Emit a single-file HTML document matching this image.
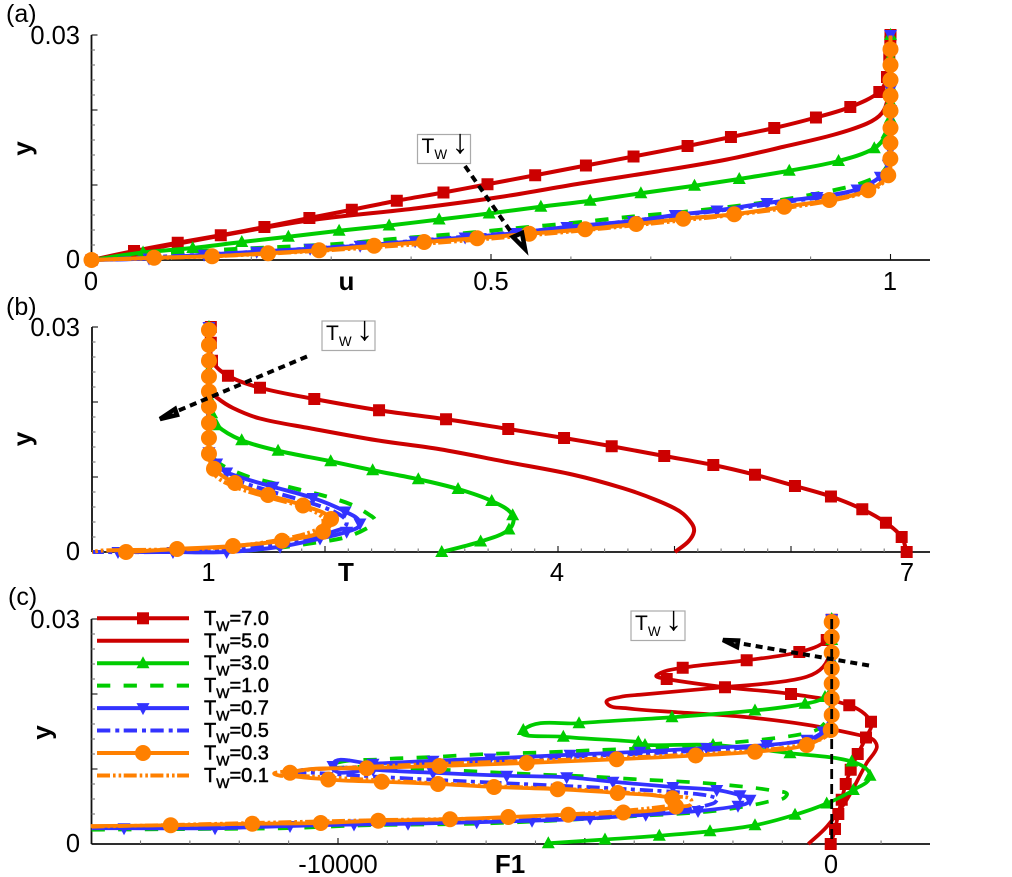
<!DOCTYPE html>
<html lang="en">
<head>
<meta charset="utf-8">
<title>Profiles of u, T and F1 for several wall temperatures</title>
<style>
html,body{margin:0;padding:0;background:#fff;}
svg{display:block;}
text{font-family:"Liberation Sans",Arial,sans-serif;fill:#000;}
.tick{font-size:25.5px;}
.ttl{font-size:26px;font-weight:bold;}
.pan{font-size:25px;}
.leg{font-size:20px;stroke:#000;stroke-width:.5px;}
.tw{font-size:21px;}
.twa{font-size:34px;}
</style>
</head>
<body>
<svg id="chart" xmlns="http://www.w3.org/2000/svg" width="1012" height="877" viewBox="0 0 1012 877">
  <rect x="0" y="0" width="1012" height="877" fill="#fff"/>
  <g id="axes"></g>
  <g id="curves"></g>

  <text class="pan" x="6" y="22">(a)</text>
  <text class="pan" x="6" y="315">(b)</text>
  <text class="pan" x="8" y="605">(c)</text>

  <text class="tick" x="80" y="44" text-anchor="end">0.03</text>
  <text class="tick" x="80" y="268" text-anchor="end">0</text>
  <text class="tick" x="91" y="290" text-anchor="middle">0</text>
  <text class="tick" x="491" y="290" text-anchor="middle">0.5</text>
  <text class="tick" x="890" y="290" text-anchor="middle">1</text>
  <text class="ttl" x="346.5" y="290" text-anchor="middle">u</text>
  <text class="ttl" transform="translate(31,148.5) rotate(-90)" text-anchor="middle">y</text>

  <text class="tick" x="80" y="336" text-anchor="end">0.03</text>
  <text class="tick" x="80" y="560" text-anchor="end">0</text>
  <text class="tick" x="208.5" y="581" text-anchor="middle">1</text>
  <text class="tick" x="557" y="581" text-anchor="middle">4</text>
  <text class="tick" x="907" y="581" text-anchor="middle">7</text>
  <text class="ttl" x="346" y="581" text-anchor="middle">T</text>
  <text class="ttl" transform="translate(31,439) rotate(-90)" text-anchor="middle">y</text>

  <text class="tick" x="80" y="628" text-anchor="end">0.03</text>
  <text class="tick" x="80" y="852" text-anchor="end">0</text>
  <text class="tick" x="338" y="873" text-anchor="middle">-10000</text>
  <text class="tick" x="831" y="873" text-anchor="middle">0</text>
  <text class="ttl" x="510" y="873" text-anchor="middle">F1</text>
  <text class="ttl" transform="translate(50.7,732.5) rotate(-90)" text-anchor="middle">y</text>

  <g id="legend"></g>

  <g>
    <line x1="465" y1="166" x2="518" y2="242" stroke="#000" stroke-width="4" stroke-dasharray="7 5"/>
    <polygon points="525,249 513,237 522,233" fill="#fff" stroke="#000" stroke-width="4.5"/>
    <rect x="417.5" y="134.5" width="53" height="29" fill="#fff" stroke="#aaa" stroke-width="1.2"/>
    <text class="tw" x="421.5" y="153">T<tspan font-size="13.5" dy="6">W</tspan></text>
    <text class="twa" x="460" y="153" text-anchor="middle">↓</text>
  </g>
  <g>
    <line x1="307" y1="356.5" x2="175" y2="412" stroke="#000" stroke-width="4" stroke-dasharray="7 5"/>
    <polygon points="160,419 175,409 177,415" fill="#fff" stroke="#000" stroke-width="4.5"/>
    <rect x="322" y="321" width="53" height="29.5" fill="#fff" stroke="#aaa" stroke-width="1.2"/>
    <text class="tw" x="326" y="340">T<tspan font-size="13.5" dy="6">W</tspan></text>
    <text class="twa" x="364.5" y="340" text-anchor="middle">↓</text>
  </g>
  <g>
    <line x1="831.7" y1="619" x2="831.7" y2="844" stroke="#000" stroke-width="2.8" stroke-dasharray="10 5"/>
    <line x1="869" y1="665.5" x2="738" y2="643" stroke="#000" stroke-width="4" stroke-dasharray="7 5"/>
    <polygon points="723,640 738,640.5 737,647" fill="#fff" stroke="#000" stroke-width="4.5"/>
    <rect x="631" y="611" width="54" height="29.5" fill="#fff" stroke="#aaa" stroke-width="1.2"/>
    <text class="tw" x="635" y="630">T<tspan font-size="13.5" dy="6">W</tspan></text>
    <text class="twa" x="673.5" y="630" text-anchor="middle">↓</text>
  </g>
</svg>

<script>
/* ---------- Panel (a): u vs y ---------- */
const aU70=[0,.0532,.1079,.1618,.2164,.2727,.3258,.3821,.4405,.4956,.5553,.6188,.6784,.7460,.8003,.8545,.9067,.9497,.9860,.9956,.9985,.9998,1];
const aY70=[0,.0012,.0023,.0033,.0044,.0056,.0067,.0079,.0090,.0101,.0113,.0126,.0138,.0152,.0164,.0176,.0190,.0204,.0224,.0244,.0269,.0291,.03];
const aU50=[0,.2611,.4072,.5115,.6116,.7077,.7953,.8662,.9288,.9706,.9894,.9972,.9998,1];
const aY50=[0,.0051,.0069,.0084,.0102,.0118,.0134,.0151,.0167,.0182,.0196,.0218,.0258,.03];
const aU30=[0,.0645,.1267,.1881,.2464,.3099,.3725,.4351,.4977,.5624,.6241,.6876,.7547,.8107,.8733,.9350,.9797,.9956,.9998,.9999,1,1,1];
const aY30=[0,.0010,.0016,.0024,.0031,.0039,.0046,.0054,.0062,.0071,.0079,.0089,.0099,.0108,.0119,.0132,.0149,.0169,.0189,.0211,.0231,.0271,.03];
const aU10=[0,.1358,.3024,.3775,.4698,.5281,.6075,.6780,.7406,.8078,.8746,.9455,.9747,.9910,.9998,1];
const aY10=[0,.0012,.0021,.0028,.0036,.0042,.0050,.0058,.0064,.0072,.0082,.0097,.0107,.0118,.0138,.03];
const aU07=[0,.0720,.1409,.2068,.2736,.3362,.4050,.4676,.5315,.5950,.6780,.7306,.7828,.8454,.9080,.9581,.9873,.9972,.9998,.9999,1,1,1,1,1];
const aY07=[0,.0002,.0007,.0011,.0015,.0019,.0025,.0030,.0036,.0044,.0052,.0060,.0066,.0076,.0084,.0094,.0111,.0127,.0147,.0173,.02,.0227,.0253,.0277,.03];
const aU05=[0,.1358,.2986,.4676,.5950,.7306,.8454,.9581,.9873,.9998,1];
const aY05=[0,.0007,.0017,.0031,.0043,.0059,.0074,.0093,.0109,.0140,.03];
const aU03=[0,.0783,.1509,.2210,.2848,.3537,.4163,.4827,.5478,.6179,.6817,.7406,.8044,.8670,.9234,.9722,.9972,.9998,.9999,1,1,1,1,1,1];
const aY03=[0,.0003,.0005,.0009,.0013,.0019,.0024,.0029,.0035,.0041,.0048,.0055,.0061,.0071,.0080,.0093,.0113,.0135,.0156,.0176,.0199,.0219,.0240,.0260,.0281];
const aU01=[0,.1735,.3537,.5478,.7406,.8670,.9722,.9972,.9998,1];
const aY01=[0,.0006,.0017,.0033,.0053,.0069,.0091,.0112,.0140,.03];

/* ---------- Panel (b): T vs y ---------- */
const bT70=[1.02,1.02,1.03,1.167,1.442,1.908,2.464,3.039,3.573,4.052,4.461,4.912,5.333,5.691,6.034,6.343,6.612,6.815,6.950,6.993];
const bY70=[.03,.0279,.0255,.0235,.0219,.0204,.0189,.0177,.0164,.0152,.0141,.0128,.0116,.0103,.0088,.0074,.0057,.0039,.0020,0];
const bT50=[1.004,1.008,1.013,1.070,1.210,1.442,1.871,2.444,2.987,3.560,4.131,4.560,4.847,5.047,5.148,5.167,5.119,5.004];
const bY50=[.03,.0223,.0216,.0206,.0192,.0178,.0165,.0149,.0137,.0120,.0103,.0085,.0069,.0054,.0038,.0027,.0014,0];
const bT30=[1.004,1.004,1.013,1.027,1.070,1.285,1.597,2.049,2.409,2.801,3.142,3.431,3.611,3.579,3.336,3.002];
const bY30=[.03,.0243,.0203,.0185,.0169,.0149,.0135,.0121,.0109,.0097,.0084,.0068,.0049,.0030,.0014,0];
const bT10=[1.004,1.004,1.056,1.313,1.554,1.785,2.015,2.229,2.386,2.429,2.386,2.186,1.897,1.500,1.156,.584,.094];
const bY10=[.03,.0149,.0123,.0102,.0092,.0083,.0074,.0063,.0049,.0042,.0034,.0020,.0012,.0004,.0001,0,0];
const bT07=[1.004,1.004,1.004,1.004,1.004,1.004,1.004,1.004,1.004,1.070,1.156,1.554,1.897,2.172,2.300,2.186,1.957,1.614,1.156,.695,.223];
const bY07=[.03,.0276,.0256,.0233,.0213,.0192,.0172,.0152,.0133,.0118,.0106,.0087,.0072,.0054,.0038,.0027,.0018,.0007,0,0,0];
const bT05=[1.004,1.004,1.070,1.242,1.554,1.843,2.100,2.186,2.069,1.725,1.210,.584,.009];
const bY05=[.03,.0143,.0114,.0096,.0080,.0067,.0052,.0038,.0027,.0014,.0003,0,0];
const bT03=[1.004,1.004,1.004,1.004,1.004,1.004,1.004,1.004,1.004,1.047,1.227,1.511,1.811,2.052,1.983,1.631,1.210,.730,.292];
const bY03=[.0296,.0276,.0255,.0234,.0214,.0194,.0172,.0152,.0131,.0111,.0092,.0076,.0062,.0044,.0027,.0015,.0008,.0004,0];
const bT01=[1.004,1.004,1.047,1.227,1.511,1.811,1.972,1.972,1.728,1.296,.867,.094,0];
const bY01=[.03,.0149,.0105,.0087,.0073,.0060,.0047,.0034,.0020,.0009,.0004,.0002,0];

/* ---------- Panel (c): F1 vs y ---------- */
const cF70=[-20,67,134,203,284,385,527,695,796,356,-824,-2161,-3342,-3545,-3018,-1722,-656,-101,0];
const cY70=[0,.0020,.0040,.0059,.0080,.0099,.0120,.0142,.0163,.0185,.0200,.0209,.0220,.0225,.0235,.0245,.0256,.0272,.0299];
const cF70TurnIndex=13;
const cF50=[-474,-101,304,709,911,843,573,-506,-1857,-3208,-4152,-4557,-4288,-3883,-2202,-1189,-506,-176,-20,0];
const cY50=[0,.0023,.0059,.0108,.0128,.0139,.0145,.0159,.0170,.0176,.0181,.0188,.0196,.0199,.0209,.0215,.0223,.0236,.0259,.03];
const cF30=[-5740,-4592,-3492,-2465,-1554,-743,-101,438,776,405,-845,-2404,-3782,-3917,-5436,-6247,-5118,-3235,-1554,-541,-136,0,0,0,0];
const cY30=[.0001,.0006,.0011,.0017,.0025,.0039,.0054,.0072,.0091,.0110,.0121,.0132,.0132,.0136,.0143,.0152,.0161,.0169,.0178,.0187,.0196,.0215,.0245,.0272,.03];
const cF10=[-14990,-12795,-11114,-9419,-7265,-5706,-4025,-2532,-1857,-1317,-911,-1189,-1722,-2734,-3883,-4896,-6050,-6988,-8203,-9433,-10162,-9088,-8076,-6988,-5908,-4835,-3747,-2060,-1047,-506,-237,-34,0];
const cY10=[.0019,.0020,.0021,.0025,.0027,.0031,.0037,.0043,.0049,.0056,.0065,.0071,.0076,.0082,.0086,.0090,.0093,.0096,.0100,.0103,.0105,.0113,.0116,.0120,.0122,.0125,.0128,.0135,.0142,.0148,.0155,.0175,.03];
const cF07=[-14990,-14334,-12491,-10972,-9676,-8582,-7190,-6070,-4896,-3767,-2708,-1898,-1655,-1857,-2329,-3214,-4430,-5368,-6583,-8076,-9291,-10101,-9291,-8076,-6921,-5301,-3883,-2532,-1317,-506,-176,-20,0,0,0];
const cY07=[.0021,.0021,.0021,.0024,.0026,.0027,.0029,.0031,.0034,.0039,.0044,.0051,.0059,.0065,.0072,.0076,.0083,.0089,.0091,.0095,.0099,.0104,.0107,.0111,.0114,.0119,.0123,.0128,.0132,.0139,.0150,.0170,.0192,.0245,.03];
const cF05=[-14990,-10769,-7731,-6050,-4693,-3073,-2404,-2329,-2937,-3822,-4962,-6583,-8744,-10506,-10871,-10101,-8076,-5301,-2546,-845,-176,0,0];
const cY05=[.0022,.0025,.0029,.0032,.0037,.0045,.0054,.0061,.0068,.0072,.0076,.0081,.0088,.0095,.0097,.0101,.0107,.0116,.0125,.0135,.0148,.0192,.03];
const cF03=[-15009,-13389,-11736,-10350,-9184,-7731,-6550,-5335,-4221,-3154,-3229,-4335,-5550,-6840,-7974,-9115,-10196,-10972,-9419,-7948,-6178,-4355,-2755,-1554,-506,-20,0,0,0,0,0,0,0];
const cY03=[.0024,.0025,.0027,.0028,.0031,.0033,.0036,.0039,.0042,.0050,.0061,.0068,.0073,.0076,.0080,.0083,.0086,.0095,.0101,.0104,.0108,.0113,.0118,.0123,.0132,.0152,.0172,.0194,.0214,.0234,.0255,.0276,.0296];
const cF01=[-14990,-11782,-9149,-6719,-4288,-3275,-2836,-3275,-4693,-6719,-9149,-10769,-11276,-10972,-9413,-7934,-6111,-4288,-2668,-1452,-440,-34,0,0];
const cY01=[.0023,.0028,.0032,.0035,.0044,.0051,.0056,.0063,.0071,.0077,.0085,.0091,.0093,.0097,.0103,.0107,.0111,.0115,.0120,.0125,.0135,.0151,.0272,.03];

const legendLabels=["7.0","5.0","3.0","1.0","0.7","0.5","0.3","0.1"];
const seriesKeys=["t70","t50","t30","t10","t07","t05","t03","t01"];
const aXs=[aU70,aU50,aU30,aU10,aU07,aU05,aU03,aU01];
const aYs=[aY70,aY50,aY30,aY10,aY07,aY05,aY03,aY01];
const bXs=[bT70,bT50,bT30,bT10,bT07,bT05,bT03,bT01];
const bYs=[bY70,bY50,bY30,bY10,bY07,bY05,bY03,bY01];
const cXs=[cF70,cF50,cF30,cF10,cF07,cF05,cF03,cF01];
const cYs=[cY70,cY50,cY30,cY10,cY07,cY05,cY03,cY01];

const RED="#cc0000",GREEN="#00cc00",BLUE="#3333ff",ORANGE="#ff8000";
const looks=[
 {c:RED,d:"",m:"square"},
 {c:RED,d:"",m:""},
 {c:GREEN,d:"",m:"up"},
 {c:GREEN,d:"13.3 13.3",m:""},
 {c:BLUE,d:"",m:"down"},
 {c:BLUE,d:"13.3 5 4 4.4",m:""},
 {c:ORANGE,d:"",m:"circle"},
 {c:ORANGE,d:"13 3 2.6 3 2.6 2.5",m:""}
];

const axisA={name:"a",sx:v=>91.5+v*799,sy:v=>260-v*7500,xMin:0,xMax:1.05,xStep:.1,xMajor:.5,x0:91.5,y0:260,lw:4};
const axisB={name:"b",sx:v=>92+v*116.5,sy:v=>552-v*7500,xMin:0,xMax:7.2,xStep:.2,xMajor:1,x0:92,y0:552,lw:4};
const axisC={name:"c",sx:v=>831.7+v*.04937,sy:v=>844-v*7500,xMin:-15000,xMax:2000,xStep:1000,xMajor:5000,x0:91.5,y0:844,lw:3.7};
const RIGHT_END=930;

const svgNS="http://www.w3.org/2000/svg";
const axesLayer=document.getElementById("axes");
const curvesLayer=document.getElementById("curves");
const legendLayer=document.getElementById("legend");

function mk(tag,attrs,parent){
  const el=document.createElementNS(svgNS,tag);
  for(const k in attrs){el.setAttribute(k,attrs[k]);}
  parent.appendChild(el);
  return el;
}

function drawAxes(ax){
  const g=mk("g",{},axesLayer);
  
  
  const xLine=mk("line",{x1:ax.x0,y1:ax.y0,x2:RIGHT_END,y2:ax.y0,stroke:"#111","stroke-width":1.8},g);
  
  
  const yLine=mk("line",{x1:ax.x0,y1:ax.y0,x2:ax.x0,y2:ax.sy(.03),stroke:"#111","stroke-width":1.8},g);
  
  
  const nx=Math.round((ax.xMax-ax.xMin)/ax.xStep);
  for(let i=0;i<=nx;i++){
    const v=ax.xMin+i*ax.xStep;
    const px=ax.sx(v);
    if(px<ax.x0+1||px>RIGHT_END) continue;
    const ratio=v/ax.xMajor;
    const major=Math.abs(ratio-Math.round(ratio))<1e-6;
    const t=mk("line",{x1:px,y1:ax.y0,x2:px,y2:ax.y0-(major?6:3.5),stroke:major?"#111":"#777","stroke-width":1.1},g);
    
    
  }
  for(let i=0;i<=15;i++){
    const v=i*.002;
    const py=ax.sy(v);
    const major=i%5===0;
    const t=mk("line",{x1:ax.x0,y1:py,x2:ax.x0+(major?6:3.5),y2:py,stroke:major?"#111":"#777","stroke-width":1.1},g);
    
    
  }
}

function smoothPath(pts){
  if(pts.length<2) return "";
  const dirs=pts.map((p,i)=>{
    const a=pts[Math.max(0,i-1)],b=pts[Math.min(pts.length-1,i+1)];
    const dx=b[0]-a[0],dy=b[1]-a[1],l=Math.hypot(dx,dy)||1;
    return [dx/l,dy/l];
  });
  let d="M"+pts[0][0].toFixed(2)+" "+pts[0][1].toFixed(2);
  for(let i=0;i<pts.length-1;i++){
    const p=pts[i],q=pts[i+1];
    const L=Math.hypot(q[0]-p[0],q[1]-p[1])*.33;
    d+="C"+(p[0]+dirs[i][0]*L).toFixed(2)+" "+(p[1]+dirs[i][1]*L).toFixed(2)+" "
         +(q[0]-dirs[i+1][0]*L).toFixed(2)+" "+(q[1]-dirs[i+1][1]*L).toFixed(2)+" "
         +q[0].toFixed(2)+" "+q[1].toFixed(2);
  }
  return d;
}

function drawMarker(kind,x,y,color,parent,name){
  let el;
  if(kind==="square"){
    el=mk("rect",{x:x-6,y:y-6,width:12,height:12,fill:color},parent);
  }else if(kind==="circle"){
    el=mk("circle",{cx:x,cy:y,r:8,fill:color},parent);
  }else if(kind==="up"){
    el=mk("polygon",{points:(x-6.5)+","+(y+5)+" "+(x+6.5)+","+(y+5)+" "+x+","+(y-7),fill:color},parent);
  }else{
    el=mk("polygon",{points:(x-6.5)+","+(y-5)+" "+(x+6.5)+","+(y-5)+" "+x+","+(y+7),fill:color},parent);
  }
  
  
}

function drawPanel(ax,xs,ys){
  seriesKeys.forEach((key,s)=>{
    const look=looks[s];
    const g=mk("g",{},curvesLayer);
    
    
    const pts=xs[s].map((v,i)=>[ax.sx(v),ax.sy(ys[s][i])]);
    const attrs={d:smoothPath(pts),fill:"none",stroke:look.c,"stroke-width":ax.lw,"stroke-linejoin":"round"};
    if(look.d) attrs["stroke-dasharray"]=look.d;
    const line=mk("path",attrs,g);
    
    
    if(look.m){
      pts.forEach((p,i)=>{
        if(ax.name==="c"&&p[0]<95) return;
        if(ax.name==="c"&&s===0&&i===cF70TurnIndex) return;
        drawMarker(look.m,p[0],p[1],look.c,g,"panel-"+ax.name+"-point-"+key);
      });
    }
  });
}

function drawLegend(){
  legendLabels.forEach((lab,i)=>{
    const y=618.3+i*22.45;
    const g=mk("g",{},legendLayer);
    
    
    const look=looks[i];
    const attrs={x1:97,y1:y,x2:189,y2:y,stroke:look.c,"stroke-width":4};
    if(look.d) attrs["stroke-dasharray"]=look.d;
    const ln=mk("line",attrs,g);
    
    
    if(look.m) drawMarker(look.m,143,y,look.c,g,"legend-marker-"+seriesKeys[i]);
    const tx=mk("text",{x:204,y:y+6.5,"class":"leg"},g);
    
    
    tx.appendChild(document.createTextNode("T"));
    const sub=mk("tspan",{dy:6,"font-size":14},tx);
    sub.textContent="W";
    const rest=mk("tspan",{dy:-6},tx);
    rest.textContent="="+lab;
  });
}

drawAxes(axisA);
drawAxes(axisB);
drawAxes(axisC);
drawPanel(axisA,aXs,aYs);
drawPanel(axisB,bXs,bYs);
drawPanel(axisC,cXs,cYs);
drawLegend();
</script>
</body>
</html>
